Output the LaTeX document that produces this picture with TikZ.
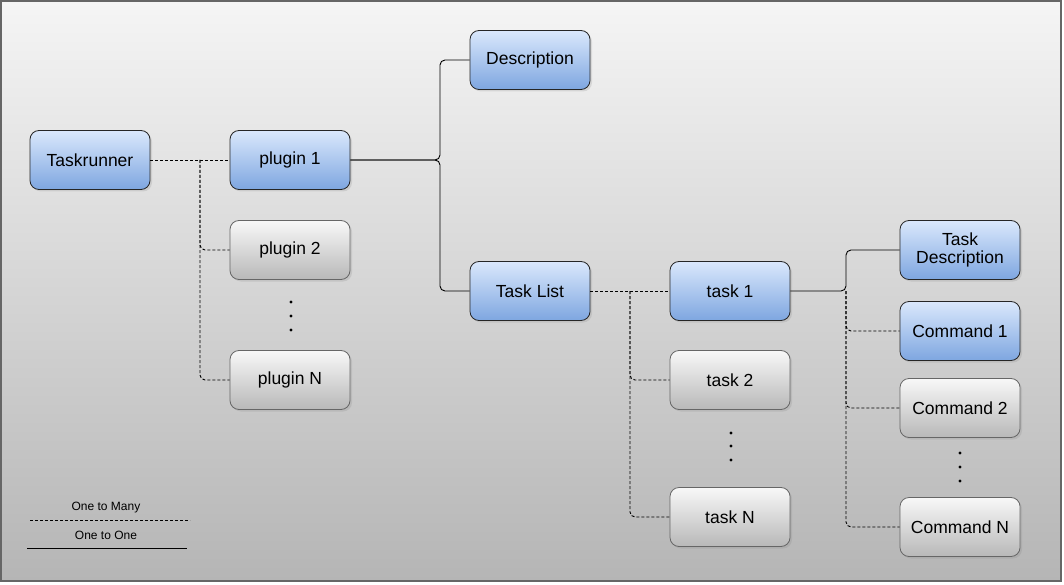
\documentclass[tikz,border=0pt]{standalone}
\usepackage{fontspec}
\setmainfont{Liberation Sans}
\usetikzlibrary{shadows}
\definecolor{bluetop}{HTML}{DAE8FC}
\definecolor{bluebot}{HTML}{7EA6E0}
\definecolor{greytop}{HTML}{F8F8F8}
\definecolor{greybot}{HTML}{B8B8B8}
\definecolor{frametop}{HTML}{F5F5F5}
\definecolor{framebot}{HTML}{B5B5B5}
\definecolor{edgegrey}{HTML}{666666}
\begin{document}
\begin{tikzpicture}[x=1pt,y=-1pt,
  box/.style={rounded corners=9pt,minimum width=120pt,minimum height=59pt,
    align=center,font=\fontsize{17.5}{20}\selectfont,line width=0.8pt,
    drop shadow={opacity=0.2,shadow xshift=2pt,shadow yshift=-2pt}},
  bluebox/.style={box,draw=black!85,top color=bluetop,bottom color=bluebot},
  greybox/.style={box,draw=edgegrey,top color=greytop,bottom color=greybot},
  many/.style={black,dash pattern=on 3pt off 2pt,line width=0.9pt,rounded corners=5pt},
  one/.style={black,line width=0.9pt,rounded corners=5pt}]
\useasboundingbox (0,0) rectangle (1064,585);
\draw[edgegrey,line width=1.5pt,top color=frametop,bottom color=framebot]
  (1,1) rectangle (1061,581);
\node[bluebox] (taskrunner) at (90,160) {Taskrunner};
\node[bluebox] (plugin1) at (290,160) {plugin 1};
\node[greybox] (plugin2) at (290,250) {plugin 2};
\node[greybox] (pluginN) at (290,380) {plugin N};
\node[bluebox] (desc) at (530,60) {Description};
\node[bluebox] (tasklist) at (530,291) {Task List};
\node[bluebox] (task1) at (730,291) {task 1};
\node[greybox] (task2) at (730,380) {task 2};
\node[greybox] (taskN) at (730,517) {task N};
\node[bluebox] (taskdesc) at (960,250) {Task\\[-2pt]Description};
\node[bluebox] (cmd1) at (960,331) {Command 1};
\node[greybox] (cmd2) at (960,408) {Command 2};
\node[greybox] (cmdN) at (960,527) {Command N};
\foreach \y in {302,316,330} \fill (291,\y) circle (1.6pt);
\foreach \y in {433,446,460} \fill (731,\y) circle (1.6pt);
\foreach \y in {453,467,481} \fill (960,\y) circle (1.6pt);
\coordinate (pj) at (200,160);
\coordinate (dj) at (440,160);
\coordinate (tj) at (630,291);
\coordinate (cj) at (846,291);
\draw[many] (taskrunner.east) -- (plugin1.west);
\draw[many] (pj) |- (plugin2.west);
\draw[many] (pj) |- (pluginN.west);
\draw[one] (plugin1.east) -- (dj) |- (desc.west);
\draw[one] (plugin1.east) -- (dj) |- (tasklist.west);
\draw[many] (tasklist.east) -- (task1.west);
\draw[many] (tj) |- (task2.west);
\draw[many] (tj) |- (taskN.west);
\draw[one] (task1.east) -- (cj) |- (taskdesc.west);
\draw[many] (cj) |- (cmd1.west);
\draw[many] (cj) |- (cmd2.west);
\draw[many] (cj) |- (cmdN.west);
\node[font=\fontsize{12}{14}\selectfont] (lmany) at (106,508) {One to Many};
\node[font=\fontsize{12}{14}\selectfont] (lone) at (106,535) {One to One};
\draw[many] (30,520) -- (190,520);
\draw[one] (27,548) -- (187,548);
\end{tikzpicture}
\end{document}
